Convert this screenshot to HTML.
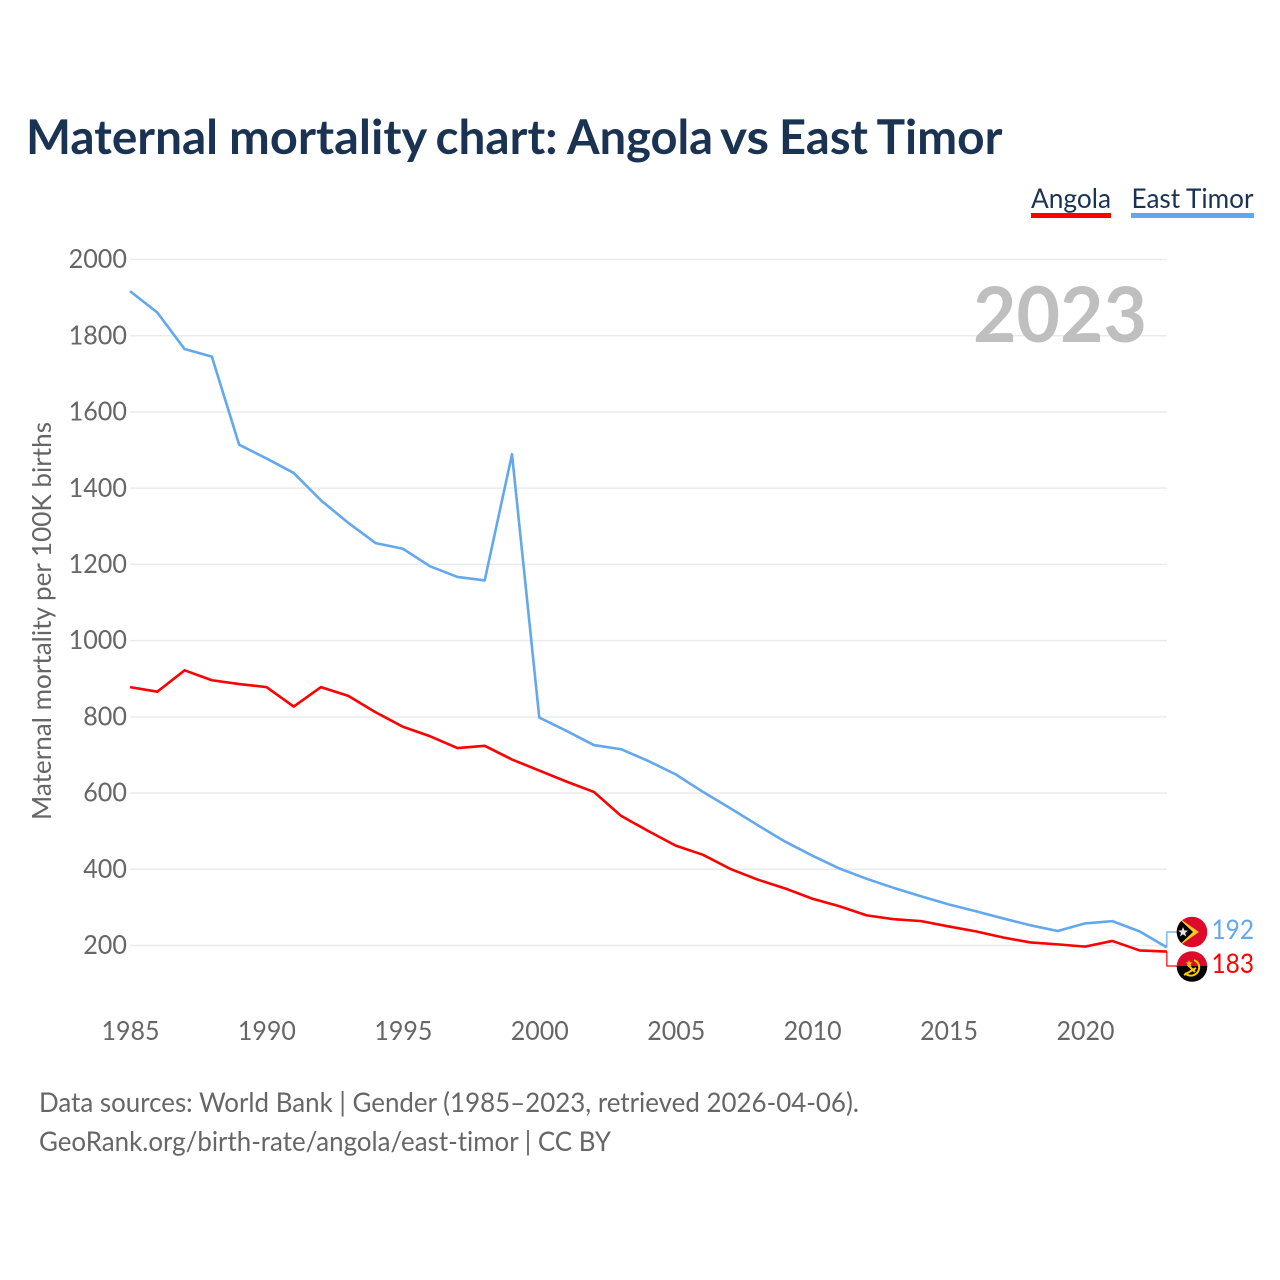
<!DOCTYPE html>
<html lang="en">
<head>
<meta charset="utf-8">
<title>Maternal mortality chart: Angola vs East Timor</title>
<style>
html,body{margin:0;padding:0;background:#fff;}
svg{display:block;}
text{font-family:"Lato","Carlito","Liberation Sans",sans-serif;font-variant-ligatures:none;}
</style>
</head>
<body>
<svg id="chart" xmlns="http://www.w3.org/2000/svg" width="1280" height="1280" viewBox="0 0 1280 1280">
<rect width="1280" height="1280" fill="#ffffff"/>
<text y="154" font-size="48" font-weight="700" fill="#1a3353"><tspan x="26" textLength="192" lengthAdjust="spacingAndGlyphs">Maternal</tspan> <tspan x="229" textLength="197" lengthAdjust="spacingAndGlyphs">mortality</tspan> <tspan x="435.5" textLength="122" lengthAdjust="spacingAndGlyphs">chart:</tspan> <tspan x="567" textLength="146" lengthAdjust="spacingAndGlyphs">Angola</tspan> <tspan x="720" textLength="49" lengthAdjust="spacingAndGlyphs">vs</tspan> <tspan x="779" textLength="89" lengthAdjust="spacingAndGlyphs">East</tspan> <tspan x="876.5" textLength="126" lengthAdjust="spacingAndGlyphs">Timor</tspan></text>
<g>
<g>
<text x="1031" y="208" font-size="27" fill="#1a3353" textLength="80" lengthAdjust="spacingAndGlyphs">Angola</text>
<rect x="1031" y="213" width="80" height="5" fill="#ff0000"/>
</g>
<g>
<text x="1131.5" y="208" font-size="27" fill="#1a3353" textLength="122" lengthAdjust="spacingAndGlyphs">East Timor</text>
<rect x="1131" y="213" width="123" height="5" fill="#63a8ec"/>
</g>
</g>
<g id="grid"></g>
<g id="yticks"></g>
<g id="xticks"></g>
<text transform="translate(51,621) rotate(-90)" text-anchor="middle" font-size="26" fill="#666666" textLength="398" lengthAdjust="spacingAndGlyphs">Maternal mortality per 100K births</text>
<text x="1147" y="342" text-anchor="end" font-size="77" font-weight="700" fill="#bfbfbf" textLength="174" lengthAdjust="spacingAndGlyphs">2023</text>
<g id="series"></g>
<g id="leaders"></g>

<g>
<clipPath id="clip-tl"><circle cx="1192" cy="932" r="15.3"/></clipPath>
<g clip-path="url(#clip-tl)">
<rect x="1176" y="916" width="32" height="32" fill="#de0a2c"/>
<polygon points="1176,916 1199,932 1176,948" fill="#ffc726"/>
<polygon points="1176,916 1193,932 1176,948" fill="#000000"/>
<polygon points="1183,927 1184.4,930.4 1188,930.6 1185.2,932.9 1186.2,936.4 1183,934.4 1180,936.4 1181,932.9 1178.2,930.6 1181.7,930.4" fill="#ffffff" opacity="0.9"/>
</g>
</g>
<g>
<clipPath id="clip-ao"><circle cx="1192" cy="966.5" r="15.3"/></clipPath>
<g clip-path="url(#clip-ao)">
<rect x="1176" y="951" width="32" height="15" fill="#de0a2c"/>
<rect x="1176" y="966" width="32" height="16" fill="#000000"/>
<path d="M1194 960 A8 8 0 0 1 1194 975 Q1189 977 1185 973" fill="none" stroke="#ffcb00" stroke-width="2"/>
<path d="M1184 975 L1196 968 M1188 965 L1195 972" fill="none" stroke="#ffcb00" stroke-width="2"/>
<polygon points="1189,960 1190,962.4 1192.4,962.4 1190.5,964 1191.2,966.4 1189,965 1186.8,966.4 1187.5,964 1185.6,962.4 1188,962.4" fill="#ffcb00"/>
</g>
</g>
<text x="1211.5" y="939" font-size="27" fill="#63a8ec" textLength="42.5" lengthAdjust="spacingAndGlyphs">192</text>
<text x="1211.5" y="973" font-size="27" fill="#ff0000" textLength="42.5" lengthAdjust="spacingAndGlyphs">183</text>
<text x="39" y="1112" font-size="27" fill="#666666" textLength="820" lengthAdjust="spacingAndGlyphs">Data sources: World Bank | Gender (1985–2023, retrieved 2026-04-06).</text>
<text x="39" y="1151" font-size="27" fill="#666666" textLength="572" lengthAdjust="spacingAndGlyphs">GeoRank.org/birth-rate/angola/east-timor | CC BY</text>
</svg>
<script>
const years = [1985,1986,1987,1988,1989,1990,1991,1992,1993,1994,1995,1996,1997,1998,1999,2000,2001,2002,2003,2004,2005,2006,2007,2008,2009,2010,2011,2012,2013,2014,2015,2016,2017,2018,2019,2020,2021,2022,2023];
const angolaValues = [878,866,922,896,886,878,827,878,855,812,774,749,718,724,688,659,630,603,540,500,462,438,401,373,350,323,303,279,269,264,250,237,221,208,203,197,212,187,184];
const eastTimorValues = [1917,1861,1765,1745,1514,1478,1440,1368,1309,1256,1241,1195,1167,1158,1489,798,763,726,715,684,649,603,560,516,473,436,402,375,351,329,308,290,271,253,238,258,264,237,195];
const yTickValues = [200,400,600,800,1000,1200,1400,1600,1800,2000];
const xTickValues = [1985,1990,1995,2000,2005,2010,2015,2020];

const NS = 'http://www.w3.org/2000/svg';
function xScale(year){ return 130 + (year - 1985) * (1085 - 130) / 35; }
function yScale(v){ return 945.5 - (v - 200) * (945.5 - 259.5) / 1800; }
function make(tag, attrs, parent){
  const el = document.createElementNS(NS, tag);
  for (const k in attrs) el.setAttribute(k, attrs[k]);
  parent.appendChild(el);
  return el;
}
const grid = document.getElementById('grid');
const yticks = document.getElementById('yticks');
const xticks = document.getElementById('xticks');
const series = document.getElementById('series');
const leaders = document.getElementById('leaders');

yTickValues.forEach(function(v){
  const line = make('line', {x1:130, x2:1167, y1:yScale(v), y2:yScale(v), stroke:'#ebebeb', 'stroke-width':1.5}, grid);
  
  
  const t = make('text', {x:127, y:yScale(v) + 8.6, 'text-anchor':'end', 'font-size':26, fill:'#666666', textLength: String(v).length * 14.6, lengthAdjust:'spacingAndGlyphs'}, yticks);
  t.textContent = v;
  
  
});
xTickValues.forEach(function(y){
  const t = make('text', {x:xScale(y) + 0.5, y:1040, 'text-anchor':'middle', 'font-size':26, fill:'#666666', textLength:58, lengthAdjust:'spacingAndGlyphs'}, xticks);
  t.textContent = y;
  
  
});
function pathFor(values){
  return values.map(function(v, i){ return (i ? 'L' : 'M') + xScale(years[i]).toFixed(2) + ' ' + yScale(v).toFixed(2); }).join(' ');
}
const etLine = make('path', {d:pathFor(eastTimorValues), fill:'none', stroke:'#63a8ec', 'stroke-width':2.6, 'stroke-linejoin':'round'}, series);


const aoLine = make('path', {d:pathFor(angolaValues), fill:'none', stroke:'#ff0000', 'stroke-width':2.6, 'stroke-linejoin':'round'}, series);



const lastX = xScale(years[years.length - 1]);
const etLeader = make('path', {d:'M' + lastX + ' ' + yScale(eastTimorValues[eastTimorValues.length - 1]) + ' V932 H1177', fill:'none', stroke:'#63a8ec', 'stroke-width':1.2}, leaders);


const aoLeader = make('path', {d:'M' + lastX + ' ' + yScale(angolaValues[angolaValues.length - 1]) + ' V966 H1177', fill:'none', stroke:'#ff0000', 'stroke-width':1.2}, leaders);


</script>
</body>
</html>
